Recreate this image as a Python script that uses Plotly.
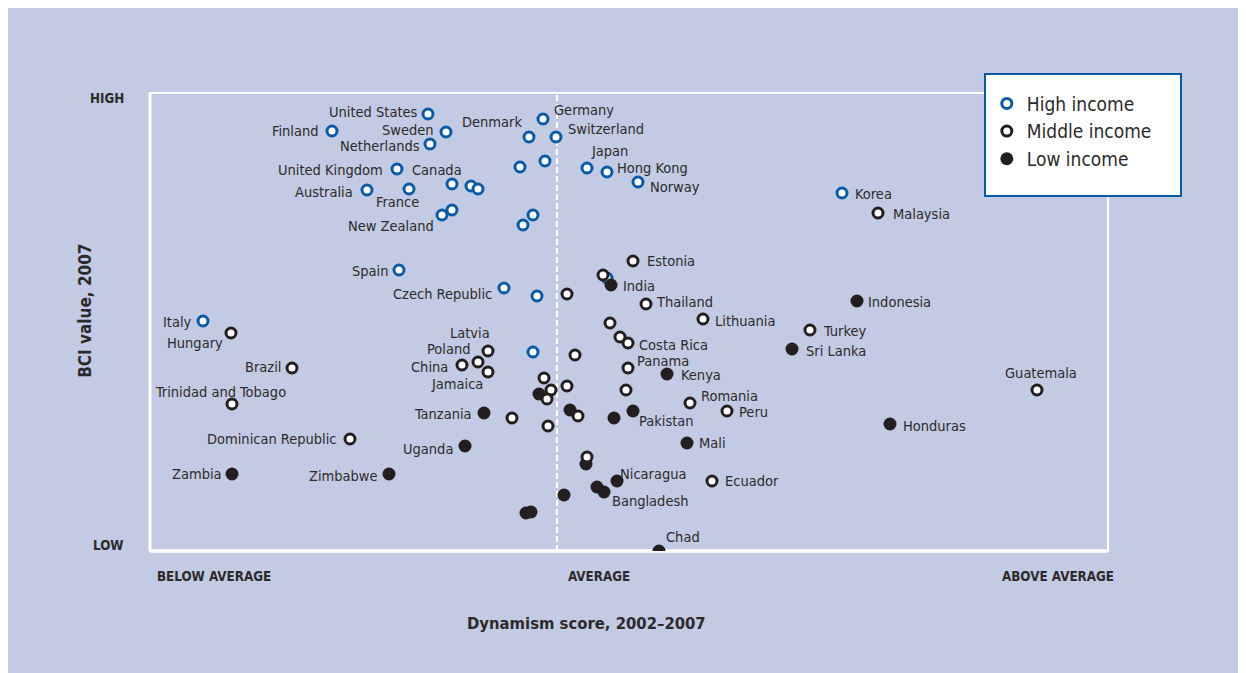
import plotly.graph_objects as go

# Dynamism score (x) vs BCI value (y), in chart units
HIGH_NAMES = [
    "United States", "Finland", "Sweden", "Netherlands", "Germany", "Denmark",
    "Switzerland", "", "", "Japan", "Hong Kong", "Norway", "United Kingdom",
    "Canada", "", "", "Australia", "France", "", "New Zealand", "", "",
    "Spain", "Czech Republic", "", "Italy", "", "Korea", "",
]
HIGH_X = [27.8, 18.2, 29.6, 28.0, 39.3, 37.9, 40.6, 37.0, 39.5, 43.7, 45.7, 48.8,
          24.7, 30.2, 32.1, 32.8, 21.7, 25.9, 30.2, 29.2, 38.3, 37.3, 24.9, 35.4,
          38.7, 5.3, 38.3, 69.2, 45.7]
HIGH_Y = [43.7, 42.0, 41.9, 40.7, 43.2, 41.4, 41.4, 38.4, 39.0, 38.3, 37.9, 36.9,
          38.2, 36.7, 36.5, 36.2, 36.1, 36.2, 34.1, 33.6, 33.6, 32.6, 28.1, 26.3,
          25.5, 23.0, 19.9, 35.8, 27.3]

LOW_NAMES = [
    "India", "Kenya", "Pakistan", "", "", "", "Tanzania", "Mali", "", "Nicaragua",
    "", "Bangladesh", "", "", "", "Chad", "Uganda", "Zambia", "Zimbabwe",
    "Indonesia", "Sri Lanka", "Honduras",
]
LOW_X = [46.1, 51.7, 48.3, 46.4, 42.0, 38.9, 33.4, 53.7, 43.6, 46.7, 44.7, 45.4,
         41.4, 37.6, 38.1, 50.9, 31.5, 8.2, 23.9, 70.7, 64.2, 74.0]
LOW_Y = [26.6, 17.7, 14.0, 13.3, 14.1, 15.7, 13.8, 10.8, 8.7, 7.0, 6.4, 5.9,
         5.6, 3.8, 3.9, 0.0, 10.5, 7.7, 7.7, 25.0, 20.2, 12.7]

MIDDLE_NAMES = [
    "Hungary", "Brazil", "Trinidad and Tobago", "Dominican Republic", "",
    "Latvia", "Poland", "China", "Jamaica", "", "Estonia", "", "Thailand",
    "Lithuania", "", "", "Costa Rica", "Panama", "", "Romania", "Peru", "", "",
    "", "", "", "", "", "", "Ecuador", "Malaysia", "Turkey", "Guatemala",
]
MIDDLE_X = [8.1, 14.2, 8.2, 20.0, 41.7, 33.8, 32.8, 31.2, 33.8, 42.5, 48.3, 45.3,
            49.6, 55.3, 46.0, 47.0, 47.8, 47.8, 47.6, 54.0, 57.7, 39.4, 40.1,
            39.7, 41.7, 36.2, 39.8, 42.8, 43.7, 56.2, 72.8, 66.0, 88.7]
MIDDLE_Y = [21.8, 18.3, 14.7, 11.2, 25.7, 20.0, 18.9, 18.6, 17.9, 19.6, 29.0, 27.6,
            24.7, 23.2, 22.8, 21.4, 20.8, 18.3, 16.1, 14.8, 14.0, 17.3, 16.1,
            15.2, 16.5, 13.3, 12.5, 13.5, 9.4, 7.0, 33.8, 22.1, 16.1]

AVERAGE_X = 40.7
X_RANGE = [0, 95.8]
Y_RANGE = [0, 45.8]

# label placement: name -> (xanchor, xshift px, yshift px)
LABEL_POS = {
    "United States": ("right", -9, 2), "Finland": ("right", -12, 0),
    "Sweden": ("right", -11, 2), "Netherlands": ("right", -9, -2),
    "Denmark": ("right", -6, 15), "Germany": ("left", 10, 9),
    "Switzerland": ("left", 11, 8), "Japan": ("center", 22, 17),
    "Hong Kong": ("left", 9, 4), "Norway": ("left", 11, -5),
    "United Kingdom": ("right", -13, -1), "Canada": ("center", -15, 14),
    "Australia": ("right", -13, -2), "France": ("center", -12, -13),
    "New Zealand": ("right", -7, -11), "Spain": ("right", -10, -1),
    "Czech Republic": ("right", -11, -6), "Italy": ("right", -10, -1),
    "Korea": ("left", 12, -1),
    "Hungary": ("right", -7, -10), "Brazil": ("right", -10, 1),
    "Trinidad and Tobago": ("center", -12, 12),
    "Dominican Republic": ("right", -12, 0), "Latvia": ("right", 3, 18),
    "Poland": ("right", -6, 13), "China": ("right", -13, -2),
    "Jamaica": ("right", -4, -12), "Estonia": ("left", 13, 0),
    "Thailand": ("left", 9, 2), "Lithuania": ("left", 11, -2),
    "Costa Rica": ("left", 10, -2), "Panama": ("left", 8, 7),
    "Romania": ("left", 10, 7), "Peru": ("left", 11, -1),
    "Ecuador": ("left", 12, 0), "Malaysia": ("left", 14, -1),
    "Turkey": ("left", 12, -1), "Guatemala": ("center", 4, 17),
    "India": ("left", 11, -1), "Kenya": ("left", 13, -1),
    "Pakistan": ("left", 5, -10), "Tanzania": ("right", -11, -1),
    "Mali": ("left", 11, 0), "Nicaragua": ("left", 2, 7),
    "Bangladesh": ("left", 7, -9), "Chad": ("left", 6, 14),
    "Uganda": ("right", -11, -3), "Zambia": ("right", -9, 0),
    "Zimbabwe": ("right", -10, -2), "Indonesia": ("left", 10, -1),
    "Sri Lanka": ("left", 13, -2), "Honduras": ("left", 12, -2),
}

COLORS = {
    "panel": "#c3cae3",
    "blue": "#0a5aa3",
    "dark": "#231f20",
    "text": "#2b2a2c",
}
FONT = "Liberation Sans Narrow, DejaVu Sans Condensed, Arial Narrow, sans-serif"

fig = go.Figure()

fig.add_trace(go.Scatter(
    x=HIGH_X, y=HIGH_Y, mode="markers", name="High income", legendrank=1,
    marker=dict(size=10, color="white", line=dict(color=COLORS["blue"], width=3)),
))
fig.add_trace(go.Scatter(
    x=LOW_X, y=LOW_Y, mode="markers", name="Low income", legendrank=3,
    marker=dict(size=13, color=COLORS["dark"], line=dict(width=0)),
))
fig.add_trace(go.Scatter(
    x=MIDDLE_X, y=MIDDLE_Y, mode="markers", name="Middle income", legendrank=2,
    marker=dict(size=10, color="white", line=dict(color=COLORS["dark"], width=3)),
))

annotations = []
for names, xs, ys in [(HIGH_NAMES, HIGH_X, HIGH_Y), (LOW_NAMES, LOW_X, LOW_Y),
                      (MIDDLE_NAMES, MIDDLE_X, MIDDLE_Y)]:
    for name, x, y in zip(names, xs, ys):
        if not name:
            continue
        anchor, dx, dy = LABEL_POS[name]
        annotations.append(dict(
            x=x, y=y, text=name, showarrow=False, xanchor=anchor, yanchor="middle",
            xshift=dx, yshift=dy, borderpad=0,
            font=dict(family=FONT, size=14.5, color=COLORS["text"]),
        ))

bold = dict(family=FONT, size=13.3, color=COLORS["text"], weight="bold")
for text, x, y, anchor in [
    ("HIGH", -0.025, 0.987, "right"),
    ("LOW", -0.025, 0.013, "right"),
    ("BELOW AVERAGE", 0.005, -0.055, "left"),
    ("AVERAGE", 0.469, -0.055, "center"),
    ("ABOVE AVERAGE", 1.008, -0.055, "right"),
]:
    annotations.append(dict(
        x=x, y=y, xref="paper", yref="paper", text=text, showarrow=False,
        xanchor=anchor, yanchor="middle", font=bold,
    ))
annotations.append(dict(
    x=0.456, y=-0.159, xref="paper", yref="paper", text="Dynamism score, 2002–2007",
    showarrow=False, xanchor="center", yanchor="middle",
    font=dict(family=FONT, size=16.5, color=COLORS["text"], weight="bold"),
))
annotations.append(dict(
    x=-0.068, y=0.524, xref="paper", yref="paper", text="BCI value, 2007",
    showarrow=False, textangle=-90, xanchor="center", yanchor="middle",
    font=dict(family=FONT, size=17, color=COLORS["text"], weight="bold"),
))

shapes = [
    # frame
    dict(type="rect", xref="paper", yref="paper", x0=0, x1=1, y0=0, y1=1,
         line=dict(color="white", width=2), layer="below"),
    dict(type="line", xref="paper", yref="paper", x0=0, x1=0, y0=0, y1=1,
         line=dict(color="white", width=3), layer="below"),
    dict(type="line", xref="paper", yref="paper", x0=0, x1=1, y0=0, y1=0,
         line=dict(color="white", width=3.5), layer="below"),
    # average line
    dict(type="line", xref="x", yref="paper", x0=AVERAGE_X, x1=AVERAGE_X, y0=0, y1=1,
         line=dict(color="white", width=2, dash="6px,3px"), layer="below"),
    # legend box
    dict(type="rect", xref="paper", yref="paper", x0=0.8716, x1=1.0762, y0=0.7751,
         y1=1.0415, fillcolor="white", line=dict(color=COLORS["blue"], width=2),
         layer="above"),
]

# the page adds an 8px body margin, so the figure is 8px smaller than the window
fig.update_layout(
    width=1238, height=665,
    margin=dict(l=142, r=138, t=85, b=122),
    paper_bgcolor=COLORS["panel"],
    plot_bgcolor="rgba(0,0,0,0)",
    showlegend=True,
    legend=dict(
        x=0.8735, y=1.0185, xanchor="left", yanchor="top",
        bgcolor="rgba(0,0,0,0)", borderwidth=0,
        font=dict(family="Liberation Sans Narrow, DejaVu Sans Condensed, sans-serif",
                  size=19, color=COLORS["text"]),
        itemwidth=30,
    ),
    xaxis=dict(range=X_RANGE, visible=False, fixedrange=True),
    yaxis=dict(range=Y_RANGE, visible=False, fixedrange=True),
    annotations=annotations,
    shapes=shapes,
    hovermode=False,
)

fig.write_html("out.html")
